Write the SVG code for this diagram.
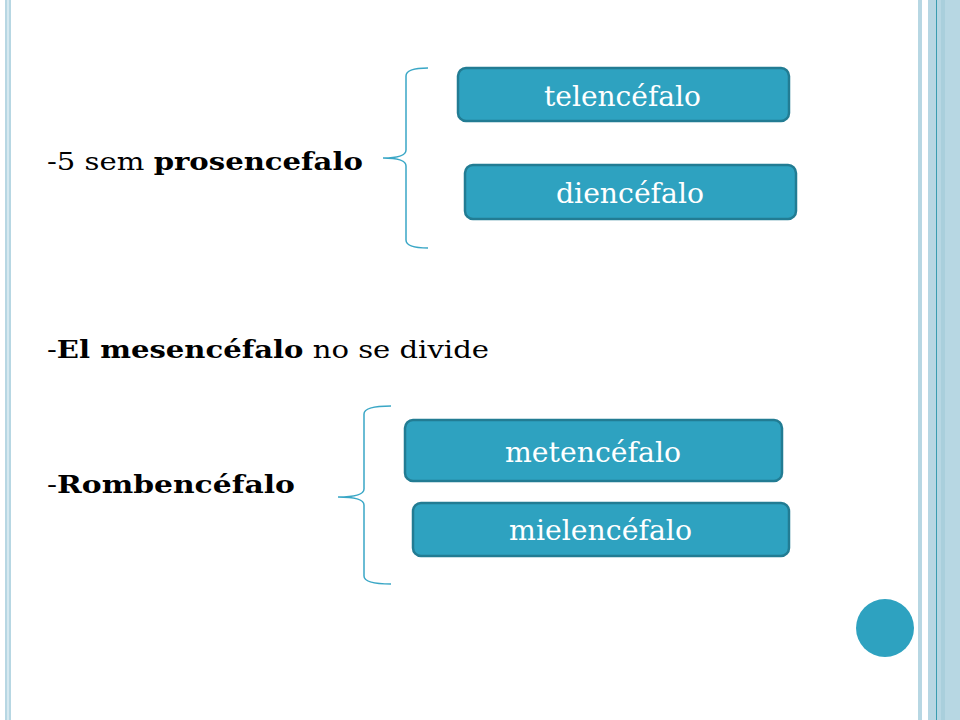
<svg xmlns="http://www.w3.org/2000/svg" width="960" height="720" viewBox="0 0 960 720">
<style>
.box{fill:#2ea2c0;stroke:#227c93;stroke-width:2.5}
.bt{font-family:"DejaVu Serif","Liberation Serif",serif;font-size:27px;fill:#ffffff;text-anchor:middle}
.t{font-family:"DejaVu Serif","Liberation Serif",serif;font-size:25px;fill:#000000}
.br{fill:none;stroke:#3aa7c6;stroke-width:1.5}
</style>
<rect x="0" y="0" width="960" height="720" fill="#ffffff"/>
<rect x="5" y="0" width="6" height="720" fill="#b7d7e3"/>
<rect x="7" y="0" width="2" height="720" fill="#d6e9f0"/>
<rect x="918" y="0" width="4" height="720" fill="#b7d7e3"/>
<rect x="928" y="0" width="32" height="720" fill="#b7d7e3"/>
<rect x="936" y="0" width="1" height="720" fill="#3a9cb0"/>
<rect x="941" y="0" width="4" height="720" fill="#a9cfdc"/>
<text class="t" x="47" y="170" textLength="316" lengthAdjust="spacingAndGlyphs">-5 sem <tspan font-weight="bold">prosencefalo</tspan></text>
<text class="t" x="47" y="358" textLength="442" lengthAdjust="spacingAndGlyphs">-<tspan font-weight="bold">El mesencéfalo</tspan> no se divide</text>
<text class="t" x="47" y="493" textLength="248" lengthAdjust="spacingAndGlyphs">-<tspan font-weight="bold">Rombencéfalo</tspan></text>
<g id="connectors">
<path class="br" d="M428,68 Q406,68 406,76 L406,150 Q406,158 383,158 Q406,158 406,166 L406,240 Q406,248 428,248"/>
<path class="br" d="M391,406 Q364,406 364,414 L364,489 Q364,497 338,497 Q364,497 364,505 L364,576 Q364,584 391,584"/>
</g>
<g id="telencefalo"><rect class="box" x="458" y="68" width="331" height="53" rx="8"/><text class="bt" x="622.5" y="106" textLength="157" lengthAdjust="spacingAndGlyphs">telencéfalo</text></g>
<g id="diencefalo"><rect class="box" x="465" y="165" width="331" height="54" rx="8"/><text class="bt" x="630" y="203" textLength="148" lengthAdjust="spacingAndGlyphs">diencéfalo</text></g>
<g id="metencefalo"><rect class="box" x="405" y="420" width="377" height="61" rx="8"/><text class="bt" x="593" y="462" textLength="176" lengthAdjust="spacingAndGlyphs">metencéfalo</text></g>
<g id="mielencefalo"><rect class="box" x="413" y="503" width="376" height="53" rx="8"/><text class="bt" x="600.5" y="540" textLength="183" lengthAdjust="spacingAndGlyphs">mielencéfalo</text></g>
<circle cx="885" cy="628" r="29" fill="#2ea2c0"/>
</svg>
